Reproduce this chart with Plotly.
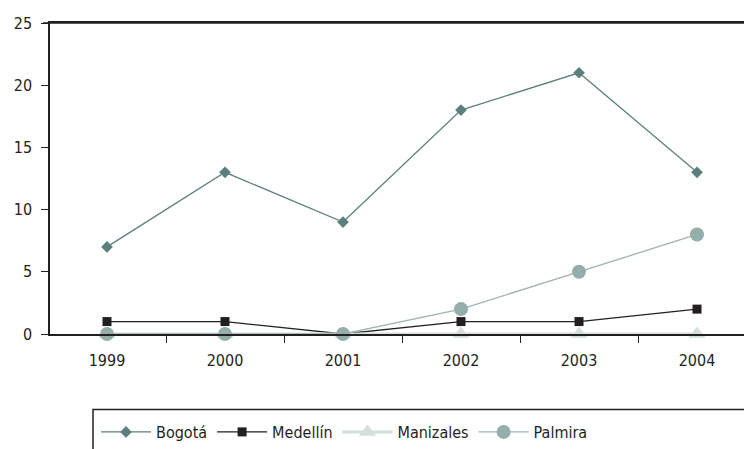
import plotly.graph_objects as go

years = ["1999", "2000", "2001", "2002", "2003", "2004"]
bogota = [7, 13, 9, 18, 21, 13]
medellin = [1, 1, 0, 1, 1, 2]
manizales = [0, 0, 0, 0, 0, 0]
palmira = [0, 0, 0, 2, 5, 8]
y_ticks = [0, 5, 10, 15, 20, 25]

FONT = "DejaVu Sans Condensed, Liberation Sans Narrow, sans-serif"
TXT = "#231f20"

fig = go.Figure()
fig.add_trace(go.Scatter(x=years, y=bogota, name="Bogotá", mode="lines+markers",
                         line=dict(color="#5b7f7e", width=1.3),
                         marker=dict(symbol="diamond", size=9, color="#5b7f7e"),
                         cliponaxis=False, legendrank=1))
fig.add_trace(go.Scatter(x=years, y=medellin, name="Medellín", mode="lines+markers",
                         line=dict(color=TXT, width=1.3),
                         marker=dict(symbol="square", size=9, color=TXT),
                         cliponaxis=False, legendrank=2))
fig.add_trace(go.Scatter(x=years, y=manizales, name="Manizales", mode="lines+markers",
                         line=dict(color="#d3dfdd", width=3),
                         marker=dict(symbol="triangle-up", size=15, color="#d3dfdd"),
                         cliponaxis=False, legendrank=3))
fig.add_trace(go.Scatter(x=years, y=palmira, name="Palmira", mode="lines+markers",
                         line=dict(color="#9db5b2", width=1.3),
                         marker=dict(symbol="circle", size=14, color="#94aeab"),
                         cliponaxis=False, legendrank=4))

# page body has an 8px margin: figure sits at (8, 8) in the window
OFF = 8
W, H = 752 - OFF, 449 - OFF
# desired plot area in window coordinates: left 50, top 23, bottom 336, right edge
L, T = 50 - OFF, 23 - OFF
B = H - (336 - OFF)
R = 0
pw, ph = W - L - R, H - T - B

def px(xw):
    return (xw - OFF - L) / pw

def py(yw):
    return (H - B - (yw - OFF)) / ph

fig.update_layout(
    width=W, height=H,
    margin=dict(l=L, r=R, t=T, b=B),
    paper_bgcolor="white", plot_bgcolor="white",
    font=dict(family=FONT, size=16, color=TXT),
    showlegend=True,
    legend=dict(orientation="h", x=px(96), xanchor="left", y=py(418), yanchor="top",
                bgcolor="rgba(0,0,0,0)", borderwidth=0, itemwidth=50,
                font=dict(family=FONT, size=16, color=TXT), traceorder="normal"),
    xaxis=dict(type="category", range=[-0.483, 5.466], showgrid=False, zeroline=False,
               showline=True, linecolor=TXT, linewidth=1.5, mirror=True, automargin=False,
               ticks="outside", tickson="boundaries", ticklen=7, tickcolor=TXT,
               tickfont=dict(size=16, color=TXT), ticklabelstandoff=11),
    yaxis=dict(range=[0, 25], tickvals=y_ticks, showgrid=False, zeroline=False,
               showline=True, linecolor=TXT, linewidth=1.5, automargin=False,
               ticks="outside", ticklen=7, tickcolor=TXT,
               tickfont=dict(size=16, color=TXT), ticklabelstandoff=6),
    shapes=[
        dict(type="line", xref="paper", yref="paper", x0=px(43), x1=1.02, y0=1, y1=1,
             line=dict(color=TXT, width=1.5)),
        dict(type="rect", xref="paper", yref="paper", x0=px(93), x1=1.05, y0=py(412), y1=py(470),
             line=dict(color=TXT, width=1.5), fillcolor="rgba(0,0,0,0)"),
    ],
)

fig.write_html("out.html")
